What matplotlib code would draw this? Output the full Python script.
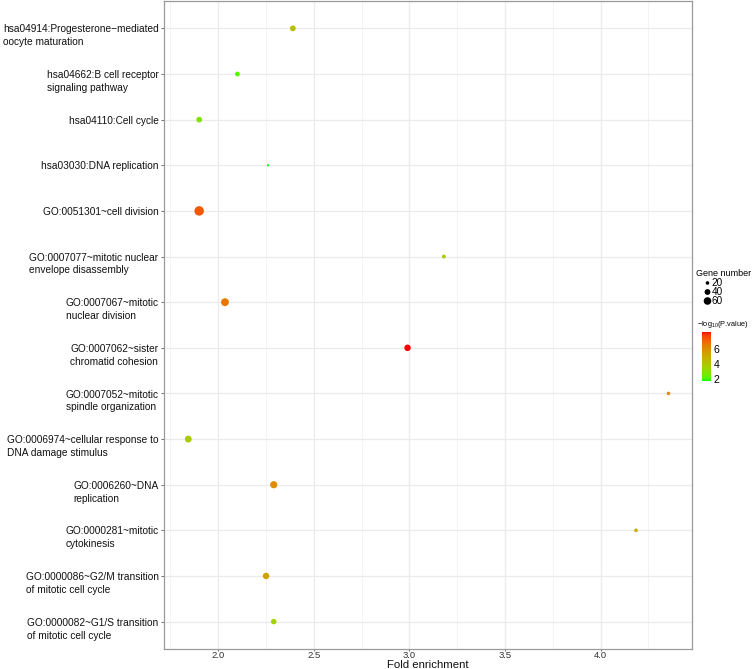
import numpy as np
import matplotlib
matplotlib.use("Agg")
import matplotlib.pyplot as plt
from matplotlib.colors import ListedColormap, Normalize
from matplotlib.colorbar import ColorbarBase
from matplotlib.transforms import ScaledTranslation

plt.rcParams['font.family'] = ['Liberation Sans', 'DejaVu Sans']
plt.rcParams['mathtext.fontset'] = 'custom'
plt.rcParams['mathtext.rm'] = 'Liberation Sans'
plt.rcParams['mathtext.default'] = 'regular'

# terms, top to bottom
terms = [
    "hsa04914:Progesterone\u2212mediated\noocyte maturation",
    "hsa04662:B cell receptor\nsignaling pathway",
    "hsa04110:Cell cycle",
    "hsa03030:DNA replication",
    "GO:0051301~cell division",
    "GO:0007077~mitotic nuclear\nenvelope disassembly",
    "GO:0007067~mitotic\nnuclear division",
    "GO:0007062~sister\nchromatid cohesion",
    "GO:0007052~mitotic\nspindle organization",
    "GO:0006974~cellular response to\nDNA damage stimulus",
    "GO:0006260~DNA\nreplication",
    "GO:0000281~mitotic\ncytokinesis",
    "GO:0000086~G2/M transition\nof mitotic cell cycle",
    "GO:0000082~G1/S transition\nof mitotic cell cycle",
]
fold_enrichment = [2.39, 2.10, 1.90, 2.26, 1.90, 3.18, 2.035, 2.99, 4.355, 1.843, 2.29, 4.185, 2.25, 2.29]
gene_number = [39, 29, 39, 11, 87, 22, 64, 47, 20, 51, 55, 20, 47, 36]
neg_log_p = [4.3, 2.2, 2.8, 1.75, 7.3, 3.9, 6.6, 8.2, 5.8, 3.8, 6.0, 5.0, 5.3, 3.6]

legend_sizes = [20, 40, 60]
cbar_ticks = [2, 4, 6]


# ggplot-like green -> red gradient, interpolated in CIELAB
M = np.array([[0.4124, 0.3576, 0.1805], [0.2126, 0.7152, 0.0722], [0.0193, 0.1192, 0.9505]])
WHITE = np.array([0.95047, 1.0, 1.08883])


def srgb_to_lab(rgb):
    c = np.asarray(rgb, float)
    lin = np.where(c <= 0.04045, c / 12.92, ((c + 0.055) / 1.055) ** 2.4)
    xyz = M @ lin / WHITE
    f = np.where(xyz > 0.008856, np.cbrt(xyz), 7.787 * xyz + 16 / 116)
    return np.array([116 * f[1] - 16, 500 * (f[0] - f[1]), 200 * (f[1] - f[2])])


def lab_to_srgb(lab):
    L, a, b = lab
    fy = (L + 16) / 116
    f = np.array([fy + a / 500, fy, fy - b / 200])
    t = np.where(f ** 3 > 0.008856, f ** 3, (f - 16 / 116) / 7.787)
    lin = np.clip(np.linalg.solve(M, t * WHITE), 0, 1)
    c = np.where(lin > 0.0031308, 1.055 * lin ** (1 / 2.4) - 0.055, 12.92 * lin)
    return np.clip(c, 0, 1)


lo, hi = srgb_to_lab([0, 1, 0]), srgb_to_lab([1, 0, 0])
cmap = ListedColormap([lab_to_srgb(lo + (hi - lo) * t) for t in np.linspace(0, 1, 256)])
norm = Normalize(vmin=min(neg_log_p), vmax=max(neg_log_p))


# size mapping: diameter (px) linear in sqrt(count), like scale_size
def marker_area(n, dmin=2.2, dmax=9.5):
    n = np.asarray(n, float)
    r = (np.sqrt(n) - np.sqrt(min(gene_number))) / (np.sqrt(max(gene_number)) - np.sqrt(min(gene_number)))
    d = dmin + (dmax - dmin) * r
    return (d * 0.72) ** 2


W, H = 753, 669
fig = plt.figure(figsize=(W / 100, H / 100), dpi=100)
ax = fig.add_axes([164 / W, (H - 649) / H, (692 - 164) / W, 648 / H])

y = np.arange(len(terms), 0, -1)
ax.scatter(fold_enrichment, y, s=marker_area(gene_number), c=neg_log_p, cmap=cmap, norm=norm,
           linewidths=0, zorder=3)

ax.set_ylim(0.4, len(terms) + 0.6)
ax.set_xlim(1.716, 4.478)
ax.set_yticks(y)
ax.set_yticklabels([])
ax.set_xticks([2.0, 2.5, 3.0, 3.5, 4.0])
ax.set_xticks([1.75, 2.25, 2.75, 3.25, 3.75, 4.25], minor=True)
ax.grid(which='major', color='#ebebeb', linewidth=0.9, zorder=0)
ax.grid(which='minor', axis='x', color='#f2f2f2', linewidth=0.6, zorder=0)
ax.set_axisbelow(True)
for sp in ax.spines.values():
    sp.set_color('#9a9a9a')
    sp.set_linewidth(0.9)
ax.tick_params(axis='y', length=2.5, width=0.6, color='#555555')
ax.tick_params(axis='x', length=1.2, width=0.6, color='#555555', labelsize=6.8, labelcolor='#333333', pad=0)
ax.tick_params(which='minor', length=0)

# y labels: first line centred on the tick, lines left-aligned
lab_tr = ax.get_yaxis_transform() + ScaledTranslation(-5.5 / 100, 3.9 / 100, fig.dpi_scale_trans)
for yy, t in zip(y, terms):
    ax.text(0, yy, t, transform=lab_tr, ha='right', va='top', multialignment='left',
            fontsize=7.25, color='#111111', linespacing=1.35, clip_on=False)

fig.text(428 / W, 1 - 665 / H, "Fold enrichment", fontsize=8.2, va='center', ha='center', color='#111111')

# size legend
fig.text(696 / W, 1 - 273 / H, "Gene number", fontsize=6.5, va='center', ha='left')
lax = fig.add_axes([700 / W, 1 - 306 / H, 50 / W, 28 / H])
lax.set_xlim(0, 50)
lax.set_ylim(28, 0)
lax.axis('off')
ly = [5, 14, 23]
lax.scatter([7.5] * 3, ly, s=marker_area(legend_sizes), color='black', linewidths=0, clip_on=False)
for yy, v in zip(ly, legend_sizes):
    lax.text(11.5, yy, str(v), fontsize=7.2, va='center', ha='left')

# colour bar
fig.text(697 / W, 1 - 324 / H, "$-log_{10}$(P.value)", fontsize=5.3, va='center', ha='left')
cax = fig.add_axes([702 / W, 1 - 381 / H, 9 / W, 49 / H])
cb = ColorbarBase(cax, cmap=cmap, norm=norm, ticks=cbar_ticks)
cb.outline.set_visible(False)
cax.tick_params(length=0, labelsize=7.6, pad=2)

fig.savefig("out.png", dpi=100)
